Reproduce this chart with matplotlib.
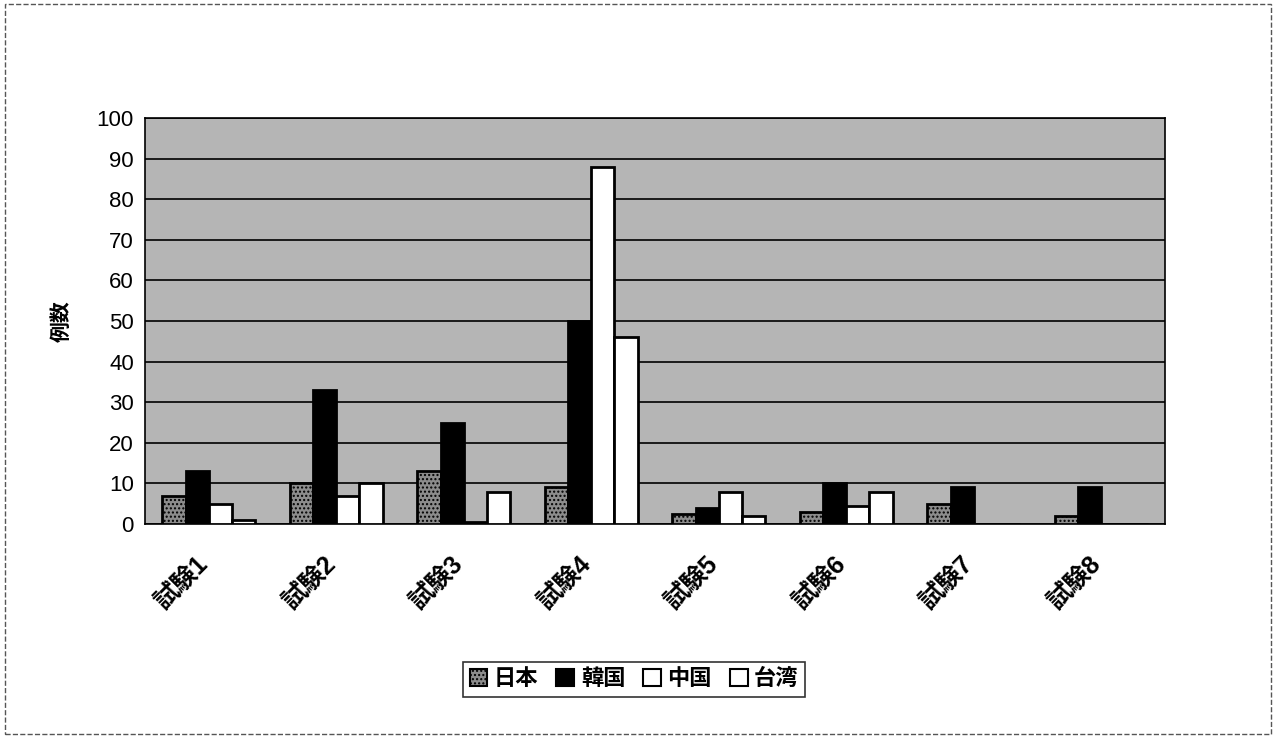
import numpy as np
import matplotlib.pyplot as plt
from matplotlib.patches import Rectangle

plt.rcParams['font.family'] = ['Liberation Sans', 'Noto Sans CJK JP', 'DejaVu Sans']

# データ
trials = ["試験1", "試験2", "試験3", "試験4", "試験5", "試験6", "試験7", "試験8"]
japan = [7, 10, 13, 9, 2.5, 3, 5, 2]
korea = [13, 33, 25, 50, 4, 10, 9, 9]
china = [5, 7, 0.5, 88, 8, 4.5, 0, 0]
taiwan = [1, 10, 8, 46, 2, 8, 0, 0]
series_names = ["日本", "韓国", "中国", "台湾"]
yticks = list(range(0, 101, 10))

fig = plt.figure(figsize=(12.76, 7.38), dpi=100)
ax = fig.add_axes([0.1136, 0.29, 0.7994, 0.55])
ax.set_facecolor('#b5b5b5')

x = np.arange(len(trials))
w = 1 / 5.5
styles = [
    dict(facecolor='#8c8c8c', edgecolor='black', hatch='....'),
    dict(facecolor='black', edgecolor='black'),
    dict(facecolor='white', edgecolor='black'),
    dict(facecolor='white', edgecolor='black'),
]
data = [japan, korea, china, taiwan]
for i, (vals, st, name) in enumerate(zip(data, styles, series_names)):
    ax.bar(x + (i - 1.5) * w, vals, width=w, linewidth=2, label=name,
           zorder=3, **st)

ax.set_xlim(-0.5, len(trials) - 0.5)
ax.set_ylim(0, 100)
ax.set_yticks(yticks)
ax.yaxis.grid(True, color='black', linewidth=1.2, zorder=0)
ax.set_axisbelow(True)
ax.set_xticks(x - 0.1)
ax.set_xticklabels(trials, rotation=45, ha='right', va='top',
                   rotation_mode='anchor', fontsize=18, fontweight='bold')
ax.tick_params(axis='x', length=0, pad=20)
ax.tick_params(axis='y', labelsize=16, length=0, pad=8)
for s in ax.spines.values():
    s.set_color('black')
    s.set_linewidth(1.2)

ax.set_ylabel("例数", fontsize=15, fontweight='bold', labelpad=18)

leg = fig.legend(loc='center', bbox_to_anchor=(0.497, 0.079), ncol=4,
                 prop=dict(size=16, weight='bold'),
                 frameon=True, fancybox=False, handlelength=0.8,
                 handleheight=0.8, handletextpad=0.3, columnspacing=0.8,
                 borderpad=0.3)
leg.get_frame().set_edgecolor('black')
leg.get_frame().set_linewidth(1.2)
for h in leg.legend_handles:
    h.set_linewidth(1.5)

fig.patches.append(Rectangle((0.004, 0.006), 0.992, 0.988,
                             transform=fig.transFigure, fill=False,
                             edgecolor='#555555', linestyle='--',
                             linewidth=1))

fig.savefig('out.png', dpi=100)
